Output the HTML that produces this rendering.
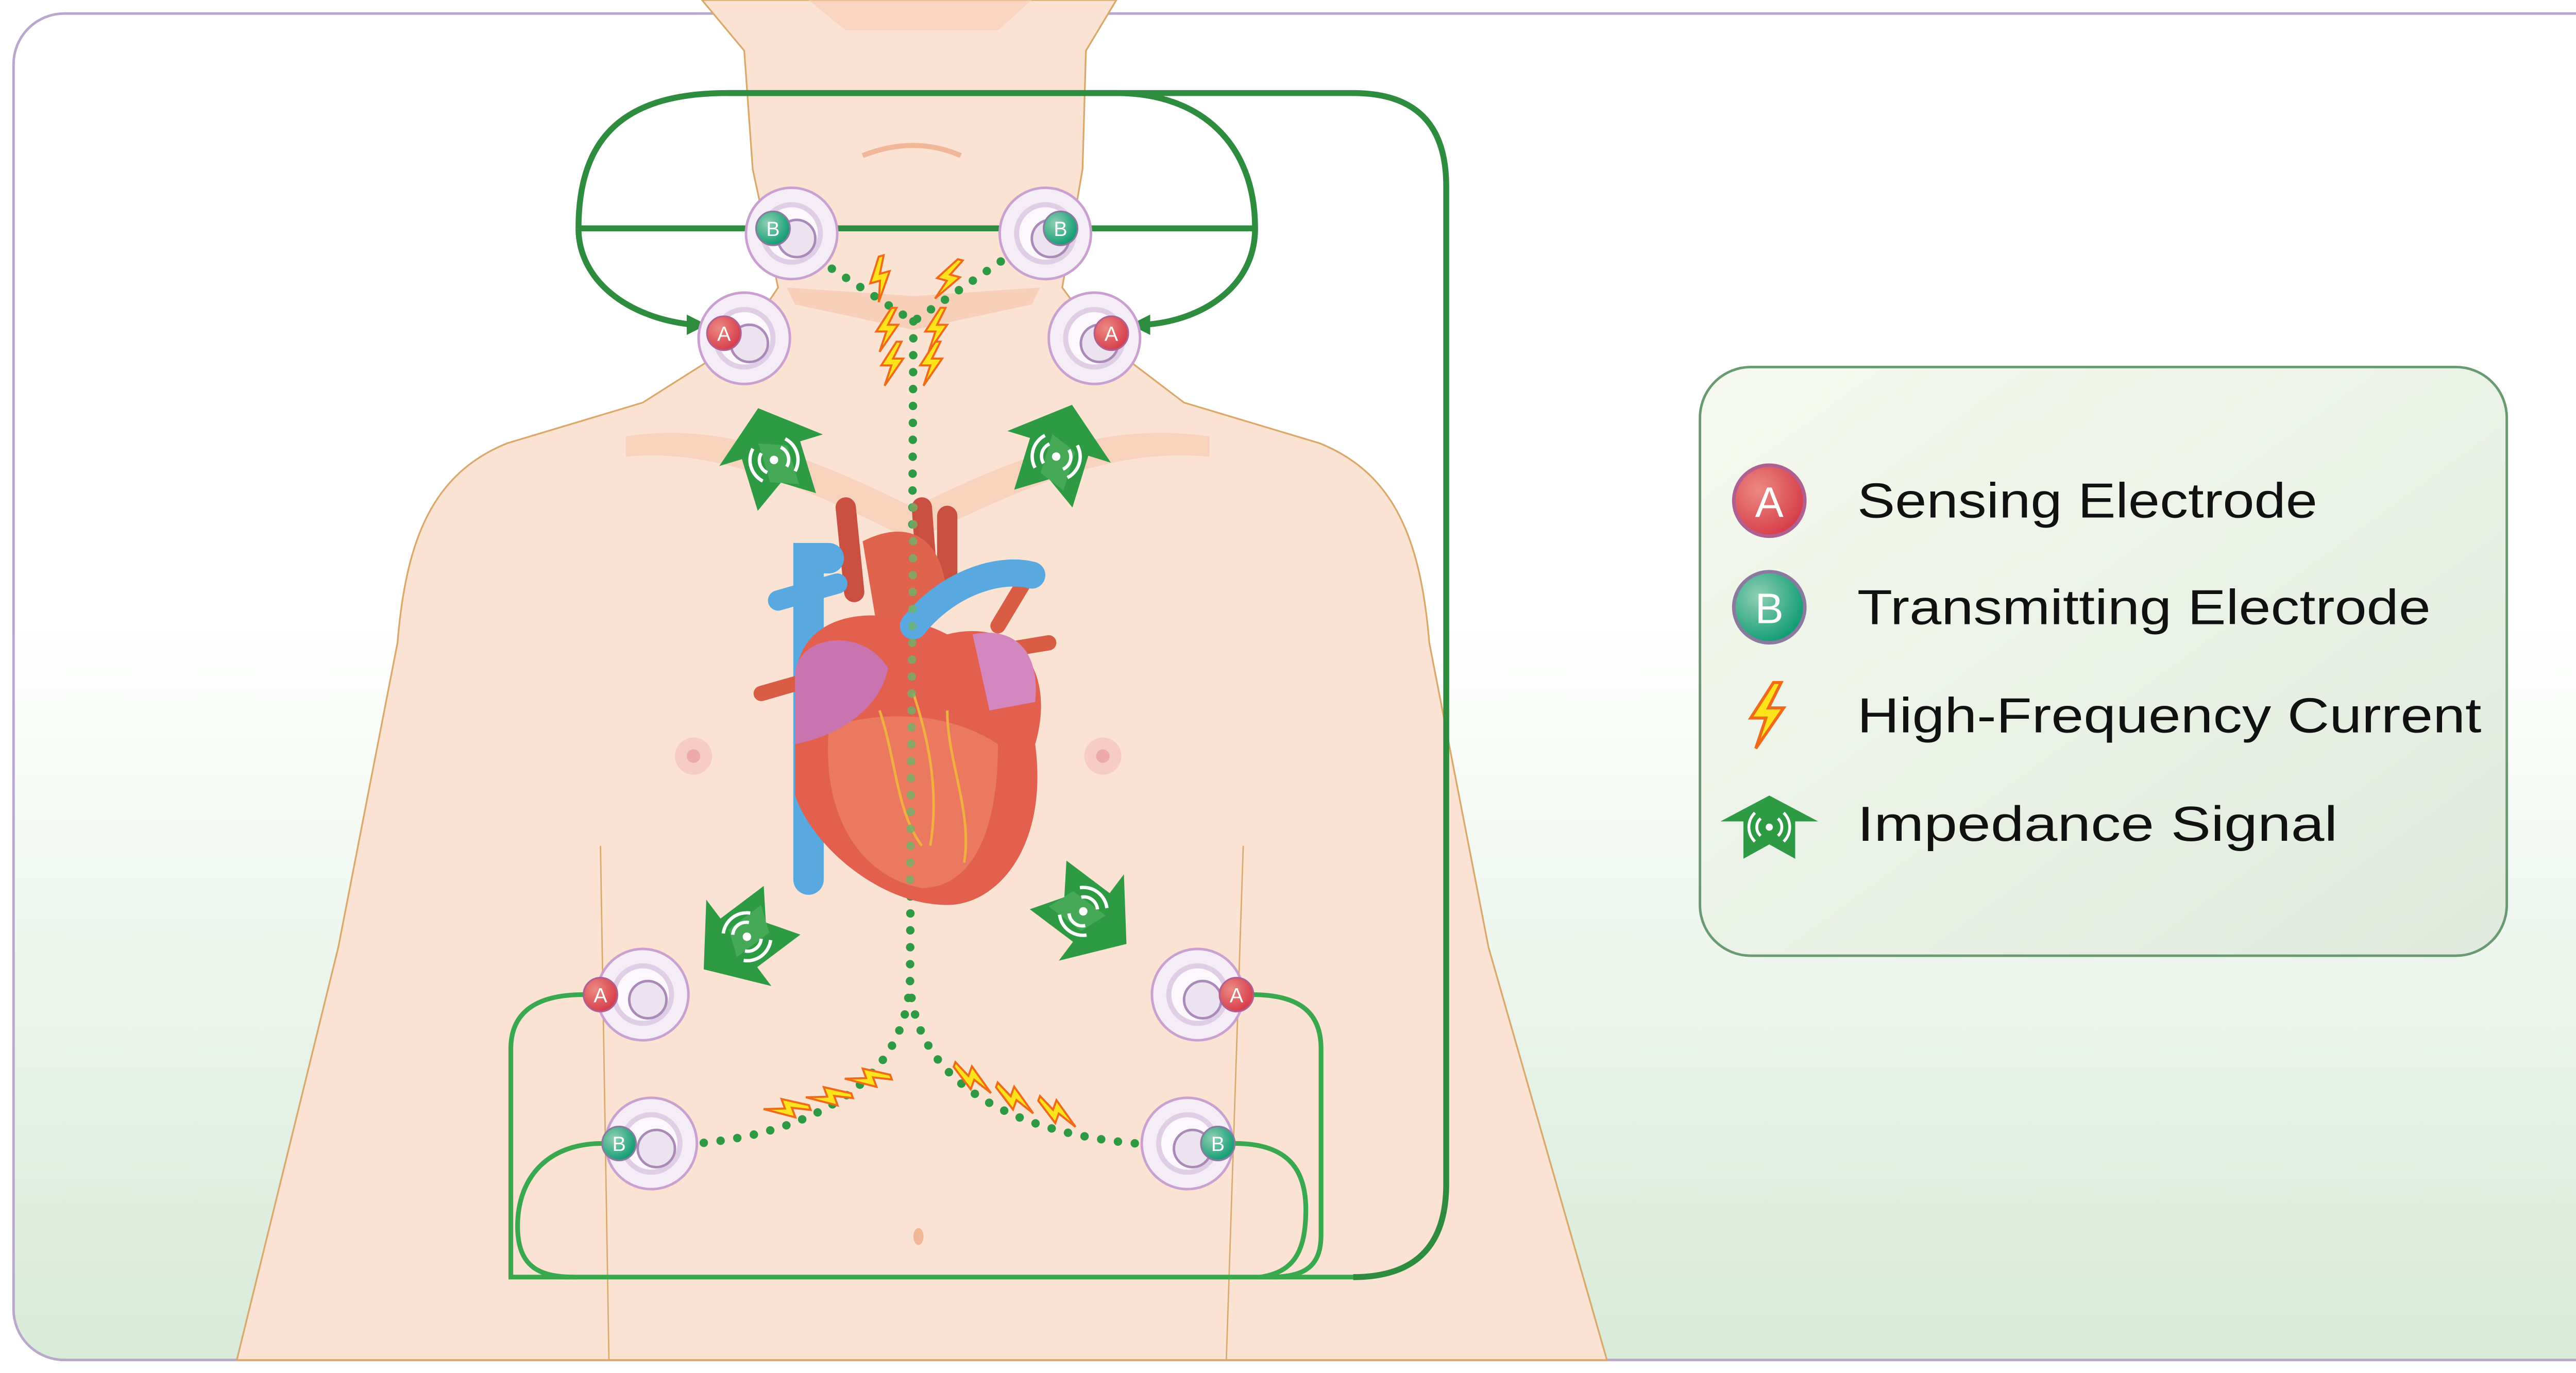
<!DOCTYPE html>
<html><head><meta charset="utf-8"><style>html,body{margin:0;padding:0;background:#fff}svg{display:block}</style></head>
<body>
<svg width="5148" height="2665" viewBox="0 0 1568 811.7" preserveAspectRatio="none" xmlns="http://www.w3.org/2000/svg">
<defs>
<linearGradient id="bg" x1="0" y1="0" x2="0" y2="1"><stop offset="0.45" stop-color="#ffffff"/><stop offset="1" stop-color="#d8ead8"/></linearGradient>
<linearGradient id="lg" x1="0" y1="0" x2="1" y2="1"><stop offset="0" stop-color="#f6f9ef"/><stop offset="1" stop-color="#dfeadd"/></linearGradient>
<radialGradient id="ra" cx="0.35" cy="0.35" r="0.7"><stop offset="0" stop-color="#ec8a84"/><stop offset="1" stop-color="#d63a48"/></radialGradient>
<radialGradient id="rb" cx="0.35" cy="0.35" r="0.7"><stop offset="0" stop-color="#8fd0b4"/><stop offset="1" stop-color="#0d9a72"/></radialGradient>
<g id="pad"><circle r="27" fill="#f4ecf6" stroke="#c9a0d0" stroke-width="1.5"/><circle r="17" fill="#fbf7fc" stroke="#e0cde6" stroke-width="3"/><circle cx="3" cy="3" r="11" fill="#ede2f0" stroke="#a98ab8" stroke-width="1.5"/></g>
<g id="ea"><circle r="10" fill="url(#ra)" stroke="#b06090" stroke-width="1"/><text y="4.5" text-anchor="middle" font-family="Liberation Sans,sans-serif" font-size="12" fill="#fff">A</text></g>
<g id="eb"><circle r="10" fill="url(#rb)" stroke="#8a7aa0" stroke-width="1"/><text y="4.5" text-anchor="middle" font-family="Liberation Sans,sans-serif" font-size="12" fill="#fff">B</text></g>
<g id="bolt"><path d="M3,-13 L-6,1 L0,1 L-4,13 L7,-3 L1,-3 L6,-13 Z" fill="#ffe31a" stroke="#f06a1a" stroke-width="1.2"/></g>
<g id="arr"><path d="M0,-30 L32,-4 L18,-4 L18,28 L0,16 L-18,28 L-18,-4 L-32,-4 Z" fill="#2e9a44"/><path d="M-6,-10 L10,-4 L10,20 L-6,14Z" fill="#5cb86a" opacity="0.5"/><circle cx="0" cy="2" r="2.5" fill="#fff"/><path d="M-6,-4 A8,8 0 0 0 -6,8 M6,-4 A8,8 0 0 1 6,8 M-10,-8 A14,14 0 0 0 -10,12 M10,-8 A14,14 0 0 1 10,12" fill="none" stroke="#fff" stroke-width="2"/></g>
</defs>
<rect x="8" y="8" width="1552" height="796" rx="30" fill="url(#bg)" stroke="#b9a8cc" stroke-width="1.5"/>
<!-- body -->
<path d="M415,0 L440,30 L445,100 L460,170 L440,200 L380,238 L300,262 C255,280 240,320 235,380 L200,560 L140,804 L950,804 L880,560 L845,380 C840,320 825,280 780,262 L700,238 L650,200 L628,170 L640,100 L642,30 L660,0 Z" fill="#fbe3d4" stroke="#d9a86a" stroke-width="1"/>
<path d="M355,500 L360,804 M735,500 L725,804" stroke="#d9a86a" stroke-width="0.8" fill="none"/>
<path d="M455,150 L470,180 L540,195 L610,180 L625,150 L615,170 L540,175 L465,170 Z" fill="#f5cbb2" opacity="0.8"/>
<path d="M370,258 C420,250 470,265 540,300 C610,265 660,250 715,258 L715,270 C660,265 610,285 540,320 C470,285 420,265 370,270Z" fill="#f5cbb2" opacity="0.7"/>
<path d="M510,92 C530,84 550,84 568,92" stroke="#f0b898" stroke-width="3" fill="none"/>
<path d="M478,0 L610,0 L590,18 L500,18Z" fill="#f5cbb2" opacity="0.6"/>
<circle cx="410" cy="447" r="11" fill="#f6cdc4"/><circle cx="410" cy="447" r="4" fill="#eeaaa8"/>
<circle cx="652" cy="447" r="11" fill="#f6cdc4"/><circle cx="652" cy="447" r="4" fill="#eeaaa8"/>
<ellipse cx="543" cy="731" rx="3" ry="5" fill="#f0b898"/>
<!-- green wires -->
<g fill="none" stroke="#2e8c3e" stroke-width="3.5">
<path d="M342,135 L742,135"/>
<path d="M342,135 C342,80 370,55 430,55 L800,55 Q855,55 855,110 L855,700 Q855,755 800,755"/>
<path d="M430,55 L660,55 C710,55 742,85 742,135 C742,170 710,190 676,192"/>
<path d="M342,135 C342,165 370,188 410,192"/>
</g>
<path d="M418,192 L406,186 L406,198Z M668,192 L680,186 L680,198Z" fill="#2e8c3e"/>
<g fill="none" stroke="#39a84e" stroke-width="2.8">
<path d="M345,588 C315,588 302,600 302,620 L302,755 L800,755"/>
<path d="M356,676 C325,676 306,695 306,725 C306,750 320,755 340,755"/>
<path d="M740,588 C770,588 781,600 781,620 L781,730 C781,750 770,755 750,755"/>
<path d="M730,676 C760,676 772,690 772,715 C772,740 765,752 745,755"/>
</g>
<!-- dotted current -->
<g fill="none" stroke="#2e9a44" stroke-width="5" stroke-linecap="round" stroke-dasharray="0 10">
<path d="M475,148 L540,190 L610,142"/>
<path d="M540,190 L538,580 C535,640 480,670 412,676"/>
<path d="M538,580 C540,640 600,670 672,676"/>
</g>
<!-- heart -->
<g>
<path d="M500,300 L505,350 M545,300 L548,340 M560,305 L560,340" stroke="#c95040" stroke-width="12" stroke-linecap="round"/>
<path d="M490,330 L478,330 L478,520" stroke="#5aa8e0" stroke-width="18" fill="none" stroke-linecap="round"/>
<path d="M460,355 L495,345" stroke="#5aa8e0" stroke-width="12" stroke-linecap="round"/>
<path d="M450,410 L485,400 M590,385 L620,380 M590,370 L605,345" stroke="#d95c45" stroke-width="9" stroke-linecap="round"/>
<path d="M510,320 C540,305 560,320 560,360 L520,380 Z" fill="#e0634d"/>
<path d="M470,405 C470,360 520,355 560,375 C600,365 625,395 612,440 C620,500 590,535 560,535 C520,535 480,500 470,470 Z" fill="#e3604f"/>
<path d="M490,430 C520,420 560,420 590,440 C590,500 570,525 545,525 C515,520 485,490 490,430Z" fill="#f08a6a" opacity="0.6"/>
<path d="M470,400 C470,375 510,370 525,395 C520,420 495,435 470,440 Z" fill="#c974ae"/>
<path d="M575,375 C600,370 615,385 612,415 L585,420 Z" fill="#d487bf"/>
<path d="M540,370 C560,345 590,335 610,340" stroke="#5aa8e0" stroke-width="16" fill="none" stroke-linecap="round"/>
<path d="M520,420 C530,450 530,480 545,500 M560,420 C560,450 575,480 570,510 M540,410 C550,440 555,470 550,500" stroke="#f0b040" stroke-width="1.5" fill="none"/>
</g>
<g fill="none" stroke="#6fb26a" stroke-width="5" stroke-linecap="round" stroke-dasharray="0 10" opacity="0.8"><path d="M540,300 L538,520"/></g>
<!-- bolts -->
<use href="#bolt" transform="translate(520,165) rotate(-15)"/><use href="#bolt" transform="translate(560,165) rotate(15)"/>
<use href="#bolt" transform="translate(524,195)"/><use href="#bolt" transform="translate(553,195)"/>
<use href="#bolt" transform="translate(527,215)"/><use href="#bolt" transform="translate(550,215)"/>
<use href="#bolt" transform="translate(465,655) rotate(70)"/><use href="#bolt" transform="translate(490,648) rotate(70)"/><use href="#bolt" transform="translate(513,637) rotate(70)"/>
<use href="#bolt" transform="translate(575,638) rotate(-70)"/><use href="#bolt" transform="translate(600,650) rotate(-70)"/><use href="#bolt" transform="translate(625,658) rotate(-70)"/>
<!-- arrows -->
<use href="#arr" transform="translate(457,270) rotate(-17)"/>
<use href="#arr" transform="translate(625,268) rotate(17)"/>
<use href="#arr" transform="translate(440,555) rotate(-127)"/>
<use href="#arr" transform="translate(642,540) rotate(127)"/>
<!-- electrodes -->
<use href="#pad" x="468" y="138"/><use href="#eb" x="457" y="135"/>
<use href="#pad" x="618" y="138"/><use href="#eb" x="627" y="135"/>
<use href="#pad" x="440" y="200"/><use href="#ea" x="428" y="197"/>
<use href="#pad" x="647" y="200"/><use href="#ea" x="657" y="197"/>
<use href="#pad" x="380" y="588"/><use href="#ea" x="355" y="588"/>
<use href="#pad" x="708" y="588"/><use href="#ea" x="731" y="588"/>
<use href="#pad" x="385" y="676"/><use href="#eb" x="366" y="676"/>
<use href="#pad" x="702" y="676"/><use href="#eb" x="720" y="676"/>
<!-- legend -->
<rect x="1005" y="217" width="477" height="348" rx="30" fill="url(#lg)" stroke="#6a9a72" stroke-width="1.5"/>
<g transform="translate(1046,296) scale(2.1)"><use href="#ea"/></g>
<g transform="translate(1046,359) scale(2.1)"><use href="#eb"/></g>
<g transform="translate(1044,423) scale(1.5)"><use href="#bolt"/></g>
<g transform="translate(1046,489) scale(0.85)"><path d="M0,-22 L34,-4 L18,-4 L18,22 L0,12 L-18,22 L-18,-4 L-34,-4 Z" fill="#2e9a44"/><circle r="2.5" fill="#fff"/><path d="M-6,-6 A8,8 0 0 0 -6,6 M6,-6 A8,8 0 0 1 6,6 M-10,-10 A14,14 0 0 0 -10,10 M10,-10 A14,14 0 0 1 10,10" fill="none" stroke="#fff" stroke-width="2"/></g>
<g font-family="Liberation Sans,sans-serif" font-size="29" fill="#111">
<text x="1098" y="306" textLength="272" lengthAdjust="spacingAndGlyphs">Sensing Electrode</text>
<text x="1098" y="369" textLength="339" lengthAdjust="spacingAndGlyphs">Transmitting Electrode</text>
<text x="1098" y="433" textLength="369" lengthAdjust="spacingAndGlyphs">High-Frequency Current</text>
<text x="1098" y="497" textLength="284" lengthAdjust="spacingAndGlyphs">Impedance Signal</text>
</g>
</svg>
</body></html>
